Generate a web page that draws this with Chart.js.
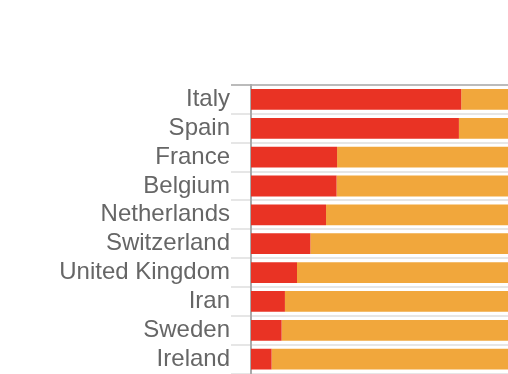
<!DOCTYPE html>
<html>
<head>
<meta charset="utf-8">
<script src="https://cdn.jsdelivr.net/npm/chart.js@4/dist/chart.umd.min.js"></script>
<style>
  html, body { margin: 0; padding: 0; background: #fff; overflow: hidden; }
  #wrap { width: 508px; height: 374px; overflow: hidden; }
</style>
</head>
<body>
<div id="wrap"><canvas id="myChart" width="508" height="389"></canvas></div>
<script>
const countries = ["Italy", "Spain", "France", "Belgium", "Netherlands", "Switzerland", "United Kingdom", "Iran", "Sweden", "Ireland"];
// share of closed cases (percent)
const redShare = [81.8, 80.9, 33.5, 33.3, 29.2, 23.1, 17.9, 13.2, 11.9, 8.0];
const orangeShare = [18.2, 19.1, 66.5, 66.7, 70.8, 76.9, 82.1, 86.8, 88.1, 92.0];

const data = {
  labels: countries,
  datasets: [
    {
      label: "red",
      backgroundColor: "rgb(233, 51, 36)",
      data: redShare,
      barPercentage: 0.72,
      categoryPercentage: 1,
    },
    {
      label: "orange",
      backgroundColor: "rgb(241, 167, 60)",
      data: orangeShare,
      barPercentage: 0.72,
      categoryPercentage: 1,
    },
  ],
};

const config = {
  type: "bar",
  data: data,
  options: {
    indexAxis: "y",
    responsive: false,
    animation: false,
    layout: { padding: { top: 85, left: 0, right: 0, bottom: 0 } },
    plugins: { legend: { display: false }, tooltip: { enabled: false } },
    scales: {
      x: {
        stacked: true,
        display: false,
        min: 0,
        max: 100,
      },
      y: {
        stacked: true,
        afterFit: (scale) => { scale.width = 251; },
        grid: {
          offset: true,
          tickLength: 20,
          lineWidth: 2,
          color: (ctx) => (ctx.index === 0 ? "#bbbbbb" : "#e6e6e6"),
        },
        border: { color: "#aaaaaa", width: 2 },
        ticks: {
          autoSkip: false,
          padding: 1,
          color: "#666666",
          font: { family: "'Liberation Sans', Arial, sans-serif", size: 24 },
        },
      },
    },
  },
};

const myChart = new Chart(document.getElementById("myChart"), config);
</script>
</body>
</html>
